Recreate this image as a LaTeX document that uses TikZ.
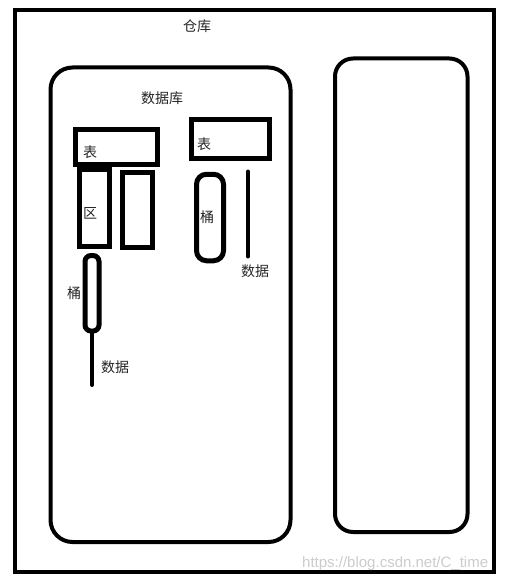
\documentclass[tikz,border=0pt]{standalone}
\usepackage{fontspec}
\setmainfont{Liberation Sans}
\newfontfamily\cjk{Noto Sans CJK SC}
\begin{document}
\begin{tikzpicture}[x=1pt,y=-1pt,
  boxline/.style={draw=black,line width=5pt,inner sep=0pt,outer sep=0pt},
  lbl/.style={font=\cjk\fontsize{14}{14}\selectfont,text=black!85,inner sep=0pt},
  wire/.style={line width=4pt,line cap=round}]
\useasboundingbox[fill=white] (0,0) rectangle (507,580);
% outer warehouse
\node[draw=black,line width=4pt,inner sep=0pt,minimum width=479pt,minimum height=562pt] (wh) at (254.5,291) {};
% database containers
\node[draw=black,line width=4pt,inner sep=0pt,rounded corners=22pt,minimum width=240pt,minimum height=474.5pt] (db) at (170.5,304.75) {};
\node[draw=black,line width=4pt,inner sep=0pt,rounded corners=18pt,minimum width=132.5pt,minimum height=473.5pt] (db2) at (401.25,295.25) {};
% left table
\node[boxline,minimum width=82pt,minimum height=34.5pt] (tabL) at (116.3,147) {};
\node[boxline,minimum width=29.5pt,minimum height=77pt] (zone) at (94.5,207.5) {};
\node[boxline,minimum width=30pt,minimum height=75pt] (zone2) at (137.5,210) {};
\node[boxline,rounded corners=6pt,minimum width=14pt,minimum height=75.5pt] (bucketL) at (92,293.25) {};
\coordinate (dataLend) at (92,385);
\draw[wire] (bucketL.south) -- (dataLend);
% right table
\node[boxline,minimum width=77.5pt,minimum height=39.5pt] (tabR) at (230.5,139) {};
\node[boxline,rounded corners=10pt,minimum width=27pt,minimum height=86.5pt] (bucketR) at (210,217.5) {};
\coordinate (dataRtop) at (248,171.5);
\coordinate (dataRbot) at (248,256.5);
\draw[wire] (dataRtop) -- (dataRbot);
% labels
\node[lbl] (t1) at (197,26) {仓库};
\node[lbl] (t2) at (162,98) {数据库};
\node[lbl] (t3) at (90,152) {表};
\node[lbl] (t4) at (90,213) {区};
\node[lbl] (t5) at (74,293) {桶};
\node[lbl] (t6) at (115,367) {数据};
\node[lbl] (t7) at (204,144) {表};
\node[lbl] (t8) at (207,217) {桶};
\node[lbl] (t9) at (255,271.5) {数据};
% watermark
\node[font=\fontsize{15}{15}\selectfont,text=black!20,inner sep=0pt,anchor=base west] (wm) at (302,567) {https://blog.csdn.net/C\_time};
\end{tikzpicture}
\end{document}
